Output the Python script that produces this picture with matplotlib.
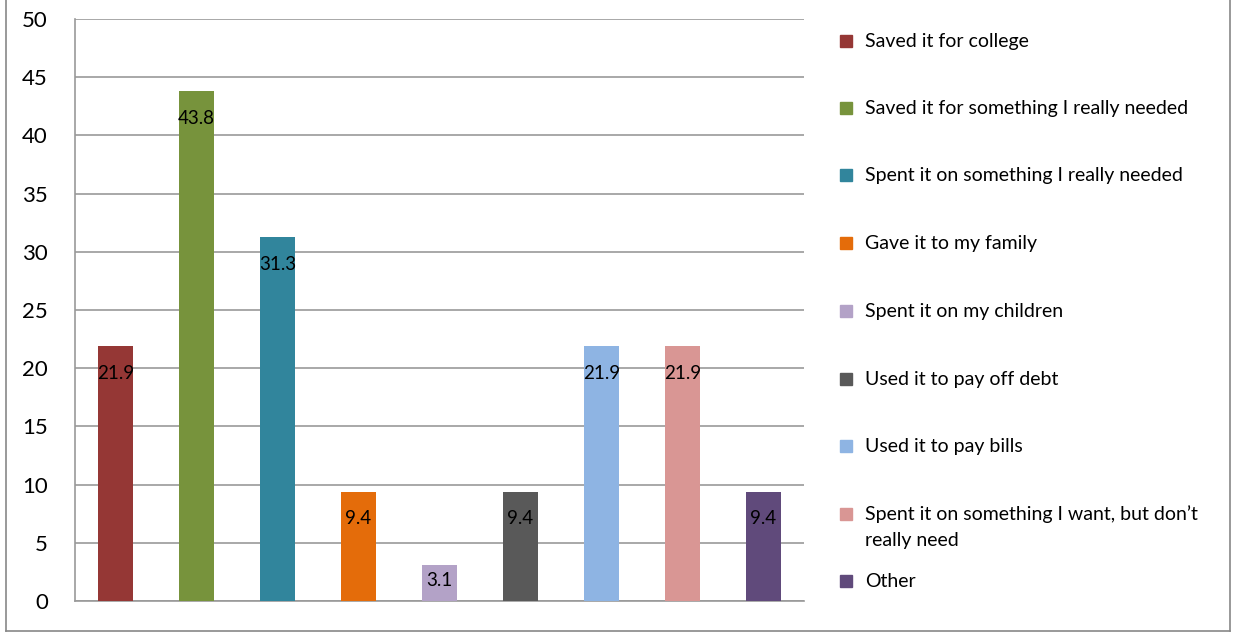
import matplotlib.pyplot as plt
from matplotlib.patches import Rectangle
from matplotlib.lines import Line2D

plt.rcParams['font.family'] = ['Lato', 'DejaVu Sans']

categories = ["Saved it for college",
              "Saved it for something I really needed",
              "Spent it on something I really needed",
              "Gave it to my family",
              "Spent it on my children",
              "Used it to pay off debt",
              "Used it to pay bills",
              "Spent it on something I want, but don\u2019t\nreally need",
              "Other"]
values = [21.9, 43.8, 31.3, 9.4, 3.1, 9.4, 21.9, 21.9, 9.4]
colors = ["#953735", "#77933C", "#31859C", "#E46C0A", "#B3A2C7",
          "#595959", "#8EB4E3", "#D99694", "#604A7B"]

W, H = 1233, 634
fig = plt.figure(figsize=(W / 100, H / 100), dpi=100)
ax = fig.add_axes([75 / W, 1 - 601 / H, 729 / W, 582 / H])

x = list(range(len(values)))
ax.bar(x, values, width=0.42, color=colors, zorder=3)
ax.set_xlim(-0.5, len(values) - 0.5)
ax.set_ylim(0, 50)
ax.set_yticks(range(0, 51, 5))
ax.set_xticks([])
ax.grid(axis='y', color='#999999', linewidth=1.2, zorder=0)
for s in ['top', 'right']:
    ax.spines[s].set_visible(False)
for s in ['left', 'bottom']:
    ax.spines[s].set_color('#999999')
    ax.spines[s].set_linewidth(1.2)
ax.tick_params(axis='y', length=0, pad=19.5, labelsize=16)

# data labels just inside the top of each bar
for xi, v in zip(x, values):
    ax.text(xi, max(v - 2.35, 1.8), f"{v}", ha='center', va='center',
            fontsize=13.5, color='black', zorder=4)

# legend on the right, marker lined up with the first text line
ys = [41, 108, 175, 243, 311, 379, 446, 514, 581]
for cat, col, y in zip(categories, colors, ys):
    fig.patches.append(Rectangle(((846 - 6) / W, 1 - (y + 6) / H), 12 / W, 12 / H,
                                 transform=fig.transFigure, color=col))
    for i, line in enumerate(cat.split("\n")):
        fig.text(865 / W, 1 - (y + 6 + 26 * i) / H, line, ha='left', va='baseline',
                 fontsize=14)

# outer border
for xs, yy in [([6, 6], [0, 631]), ([6, 1230], [631, 631]), ([1230, 1230], [0, 631])]:
    fig.lines.append(Line2D([v / W for v in xs], [1 - v / H for v in yy],
                            transform=fig.transFigure, color='#888888', linewidth=1.2))

fig.savefig("out.png", dpi=100)
